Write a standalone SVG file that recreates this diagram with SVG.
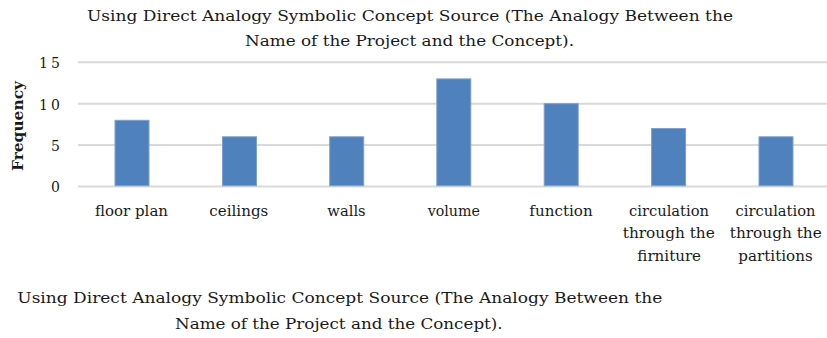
<svg xmlns="http://www.w3.org/2000/svg" width="827" height="338" viewBox="0 0 827 338">
  <style>
    text { font-family: "DejaVu Serif", "Liberation Serif", serif; fill: #1a1a1a; }
    .title { font-size: 15px; }
    .tick { font-size: 14px; text-anchor: end; }
    .cat { font-size: 14px; text-anchor: middle; }
    .axis-title { font-size: 14px; font-weight: bold; text-anchor: middle; }
    .grid { stroke: #D9D9D9; stroke-width: 2; }
    .bar { fill: #4F81BD; stroke: #7E9FCD; stroke-width: 1; }
  </style>
  <rect width="827" height="338" fill="#ffffff"/>

  <g id="chart-title">
    <text class="title" x="87" y="20.5" textLength="646" lengthAdjust="spacingAndGlyphs">Using Direct Analogy Symbolic Concept Source (The Analogy Between the</text>
    <text class="title" x="245" y="46" textLength="329" lengthAdjust="spacingAndGlyphs">Name of the Project and the Concept).</text>
  </g>

  <g id="gridlines">
    <line class="grid" x1="78" y1="62.3" x2="827" y2="62.3"/>
    <line class="grid" x1="78" y1="103.7" x2="827" y2="103.7"/>
    <line class="grid" x1="78" y1="145.1" x2="827" y2="145.1"/>
    <line class="grid" x1="78" y1="186.5" x2="827" y2="186.5"/>
  </g>

  <g id="y-axis">
    <text class="tick" x="60" y="68.3" textLength="21" lengthAdjust="spacing">15</text>
    <text class="tick" x="60" y="109.5" textLength="21" lengthAdjust="spacing">10</text>
    <text class="tick" x="60" y="150.8">5</text>
    <text class="tick" x="60" y="192.3">0</text>
    <text class="axis-title" transform="translate(22.5,126) rotate(-90)" x="0" y="0" textLength="90" lengthAdjust="spacingAndGlyphs">Frequency</text>
  </g>

  <g id="bars">
    <rect id="bar-floor-plan" class="bar" x="115" y="120.3" width="34" height="65.4"/>
    <rect id="bar-ceilings" class="bar" x="222.5" y="136.8" width="34" height="48.9"/>
    <rect id="bar-walls" class="bar" x="329.7" y="136.8" width="34" height="48.9"/>
    <rect id="bar-volume" class="bar" x="436.8" y="78.9" width="34" height="106.8"/>
    <rect id="bar-function" class="bar" x="544.2" y="103.7" width="34" height="82"/>
    <rect id="bar-circ-furniture" class="bar" x="651.6" y="128.5" width="34" height="57.2"/>
    <rect id="bar-circ-partitions" class="bar" x="759" y="136.8" width="34" height="48.9"/>
  </g>

  <g id="x-axis-labels">
    <text class="cat" x="131.5" y="215.7" textLength="73" lengthAdjust="spacingAndGlyphs">floor plan</text>
    <text class="cat" x="238.8" y="215.7" textLength="59" lengthAdjust="spacingAndGlyphs">ceilings</text>
    <text class="cat" x="346.5" y="215.7" textLength="38.3" lengthAdjust="spacingAndGlyphs">walls</text>
    <text class="cat" x="453.8" y="215.7" textLength="52.3" lengthAdjust="spacingAndGlyphs">volume</text>
    <text class="cat" x="561" y="215.7" textLength="63.3" lengthAdjust="spacingAndGlyphs">function</text>
    <text class="cat" x="669" y="215.7" textLength="80" lengthAdjust="spacingAndGlyphs">circulation</text>
    <text class="cat" x="668.8" y="238.3" textLength="92" lengthAdjust="spacingAndGlyphs">through the</text>
    <text class="cat" x="669.2" y="261" textLength="63.7" lengthAdjust="spacingAndGlyphs">firniture</text>
    <text class="cat" x="775.5" y="215.7" textLength="80" lengthAdjust="spacingAndGlyphs">circulation</text>
    <text class="cat" x="775.8" y="238.3" textLength="92" lengthAdjust="spacingAndGlyphs">through the</text>
    <text class="cat" x="775.5" y="261" textLength="74.3" lengthAdjust="spacingAndGlyphs">partitions</text>
  </g>

  <g id="caption">
    <text class="title" x="17.3" y="303" textLength="645" lengthAdjust="spacingAndGlyphs">Using Direct Analogy Symbolic Concept Source (The Analogy Between the</text>
    <text class="title" x="175" y="329.3" textLength="327.7" lengthAdjust="spacingAndGlyphs">Name of the Project and the Concept).</text>
  </g>
</svg>
